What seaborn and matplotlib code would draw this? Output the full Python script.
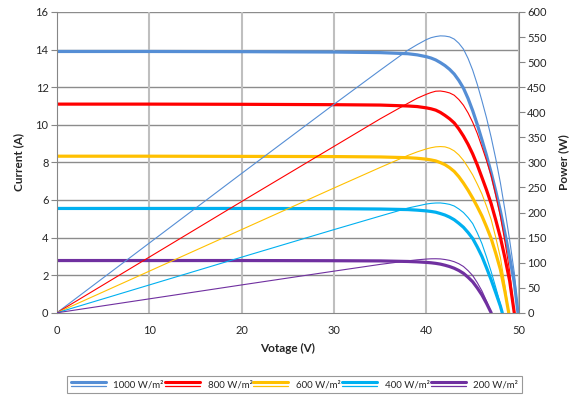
import numpy as np
import pandas as pd
import matplotlib
matplotlib.use("Agg")
import matplotlib.pyplot as plt
import seaborn as sns
from matplotlib.lines import Line2D
from matplotlib.legend_handler import HandlerBase

# Datos (curvas I-V y P-V por irradiancia)
irradiancias = ["1000 W/m²", "800 W/m²", "600 W/m²", "400 W/m²", "200 W/m²"]
colores = ["#558ED5", "#FF0000", "#FFC000", "#00B0F0", "#7030A0"]

v_1000 = [0, 10, 20, 30, 35, 38, 39, 40, 40.5, 41, 41.5, 42, 42.5, 43, 43.5, 44, 44.5,
          45, 45.5, 46, 46.5, 47, 47.5, 48, 48.5, 49, 49.5, 49.9]
i_1000 = [13.90, 13.90, 13.89, 13.87, 13.84, 13.78, 13.72, 13.62, 13.55, 13.45, 13.31, 13.15,
          12.95, 12.70, 12.36, 11.95, 11.40, 10.75, 10.01, 9.20, 8.36, 7.45, 6.46, 5.40,
          4.20, 2.95, 1.62, 0]
p_1000 = [0, 139, 278, 416, 484, 524, 535, 545, 548.8, 551, 552.4, 552, 550.4, 546, 537.7,
          526, 507.3, 484, 455.5, 423, 388.7, 350, 306.9, 259, 203.7, 145, 80.2, 0]

v_800 = [0, 10, 20, 30, 35, 38, 39, 40, 40.5, 41, 41.5, 42, 42.5, 43, 43.5, 44, 44.5,
         45, 45.5, 46, 46.5, 47, 47.5, 48, 48.5, 49, 49.5]
i_800 = [11.10, 11.10, 11.09, 11.07, 11.05, 11.00, 10.97, 10.90, 10.85, 10.78, 10.66, 10.50,
         10.32, 10.10, 9.78, 9.40, 8.96, 8.45, 7.86, 7.20, 6.53, 5.80, 4.93, 4.00, 2.90,
         1.70, 0]
p_800 = [0, 111, 222, 332, 387, 418, 428, 436, 439.4, 442, 442.4, 441, 438.6, 434, 425.4,
         414, 398.7, 380, 357.6, 331, 303.6, 273, 234.2, 192, 140.7, 83, 0]

v_600 = [0, 10, 20, 30, 35, 38, 39, 40, 40.5, 41, 41.5, 42, 42.5, 43, 43.5, 44, 44.5,
         45, 45.5, 46, 46.5, 47, 47.5, 48, 48.5, 48.9]
i_600 = [8.33, 8.33, 8.32, 8.31, 8.29, 8.25, 8.22, 8.17, 8.13, 8.08, 7.99, 7.88, 7.72, 7.52,
         7.24, 6.90, 6.52, 6.10, 5.64, 5.15, 4.57, 3.95, 3.16, 2.30, 1.10, 0]
p_600 = [0, 83, 166, 249, 290, 314, 321, 327, 329.3, 331, 331.6, 331, 328.1, 323, 314.9,
         304, 290.1, 275, 256.6, 237, 212.5, 186, 150.1, 110, 53.4, 0]

v_400 = [0, 10, 20, 30, 35, 38, 39, 40, 40.5, 41, 41.5, 42, 42.5, 43, 43.5, 44, 44.5,
         45, 45.5, 46, 46.5, 47, 47.5, 48, 48.2]
i_400 = [5.55, 5.55, 5.55, 5.54, 5.52, 5.49, 5.46, 5.42, 5.39, 5.35, 5.28, 5.20, 5.09, 4.95,
         4.76, 4.55, 4.27, 3.95, 3.50, 3.00, 2.39, 1.75, 1.06, 0.35, 0]
p_400 = [0, 55.5, 111, 166, 193, 209, 213, 217, 218.3, 219, 219.1, 218, 216.3, 213, 207.1,
         200, 190, 178, 159.3, 138, 111.1, 82, 50.4, 17, 0]

v_200 = [0, 10, 20, 30, 35, 38, 39, 40, 40.5, 41, 41.5, 42, 42.5, 43, 43.5, 44, 44.5,
         45, 45.5, 46, 46.5, 47]
i_200 = [2.78, 2.78, 2.78, 2.77, 2.76, 2.73, 2.71, 2.68, 2.66, 2.63, 2.59, 2.53, 2.46, 2.37,
         2.25, 2.10, 1.89, 1.65, 1.32, 0.95, 0.50, 0]
p_200 = [0, 27.8, 55.6, 83.1, 96.6, 103.7, 105.7, 107.2, 107.7, 107.8, 107.5, 106.3, 104.6,
         101.9, 97.9, 92.4, 84.1, 74.3, 60.1, 43.7, 23.3, 0]

voltajes = [v_1000, v_800, v_600, v_400, v_200]
corrientes = [i_1000, i_800, i_600, i_400, i_200]
potencias = [p_1000, p_800, p_600, p_400, p_200]

sns.set_style("white")
plt.rcParams['font.family'] = ['Lato', 'DejaVu Sans']

fig = plt.figure(figsize=(5.74, 4.0), dpi=100)
ax = fig.add_axes([0.099, 0.218, 0.805, 0.752])
ax2 = ax.twinx()

for v, i, p, c in zip(voltajes, corrientes, potencias, colores):
    sns.lineplot(x=v, y=i, ax=ax, color=c, linewidth=2.3, sort=False)
    sns.lineplot(x=v, y=p, ax=ax2, color=c, linewidth=0.8, sort=False)

# Ejes
ax.set_xlim(0, 50)
ax.set_ylim(0, 16)
ax2.set_ylim(0, 600)
ax.set_xticks(range(0, 51, 10))
ax.set_yticks(range(0, 17, 2))
ax2.set_yticks(range(0, 601, 50))

ax.grid(False)
ax2.grid(False)
for y in range(2, 17, 2):
    ax.axhline(y, color="#8C8C8C", linewidth=1.0, zorder=0)
for x in range(10, 51, 10):
    ax.axvline(x, color="#BFBFBF", linewidth=1.5, zorder=0)

for a in (ax, ax2):
    for s in a.spines.values():
        s.set_visible(False)
ax.spines['left'].set_visible(True)
ax.spines['left'].set_color("#868686")
ax.spines['bottom'].set_visible(True)
ax.spines['bottom'].set_color("#868686")
ax2.spines['right'].set_visible(True)
ax2.spines['right'].set_color("#868686")

ax.tick_params(axis='y', left=True, length=4, color="#868686", labelsize=8, pad=2)
ax.tick_params(axis='x', bottom=False, labelsize=8, pad=5)
ax2.tick_params(axis='y', right=True, length=4, color="#868686", labelsize=8, pad=2)

ax.set_xlabel("Votage (V)", fontsize=8.5, fontweight='bold', labelpad=5)
ax.set_ylabel("Current (A)", fontsize=8.5, fontweight='bold', labelpad=8)
ax2.set_ylabel("Power (W)", fontsize=8.5, fontweight='bold', labelpad=8)


# Leyenda con dos lineas (gruesa y fina) por entrada
class DosLineas(HandlerBase):
    def create_artists(self, legend, orig_handle, xdescent, ydescent,
                       width, height, fontsize, trans):
        c = orig_handle.get_color()
        x0, x1 = -xdescent, -xdescent + width
        l1 = Line2D([x0, x1], [0.75 * height - ydescent] * 2, color=c, linewidth=2.2)
        l2 = Line2D([x0, x1], [0.15 * height - ydescent] * 2, color=c, linewidth=0.9)
        l1.set_transform(trans)
        l2.set_transform(trans)
        return [l1, l2]


handles = [Line2D([], [], color=c) for c in colores]
leg = fig.legend(handles, irradiancias, handler_map={Line2D: DosLineas()},
                 loc='lower center', bbox_to_anchor=(0.513, 0.005), ncol=5,
                 fontsize=7, frameon=True, fancybox=False, handlelength=3.6,
                 handletextpad=0.8, columnspacing=0.1, borderpad=0.4)
leg.get_frame().set_edgecolor("#808080")
leg.get_frame().set_linewidth(0.8)

plt.savefig("out.png", dpi=100)
